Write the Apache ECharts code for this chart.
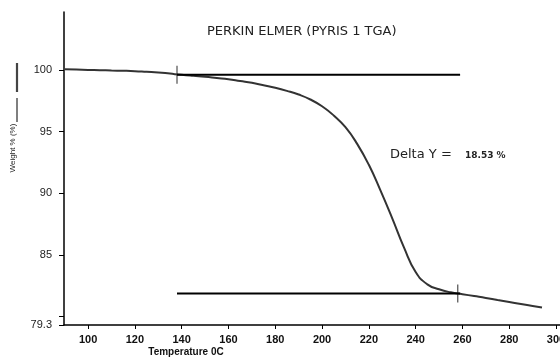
<!DOCTYPE html>
<html>
<head>
<meta charset="utf-8">
<script src="https://cdn.jsdelivr.net/npm/echarts@6/dist/echarts.min.js"></script>
<style>
  html, body { margin: 0; padding: 0; background: #fff; }
  #tgaChart { width: 560px; height: 358px; }
</style>
</head>
<body>
<div id="tgaChart"></div>
<script>
// TGA curve (5 degree steps)
var temperature = [90, 95, 100, 105, 110, 115, 120, 125, 130, 135, 140, 145, 150, 155, 160, 165, 170, 175, 180, 185, 190, 195, 200, 205, 210, 215, 220, 225, 230, 235, 240, 245, 250, 255, 260, 265, 270, 275, 280, 285, 290, 294];
var weight = [100.05, 100.03, 100.0, 99.98, 99.95, 99.93, 99.9, 99.85, 99.8, 99.7, 99.6, 99.52, 99.45, 99.35, 99.25, 99.1, 98.95, 98.75, 98.55, 98.3, 98.0, 97.6, 97.05, 96.3, 95.35, 94.0, 92.3, 90.2, 87.95, 85.6, 83.6, 82.6, 82.2, 81.95, 81.8, 81.65, 81.5, 81.33, 81.17, 81.0, 80.85, 80.72];

// baseline segments and cross markers
var upperLine = [[138, 99.6], [259, 99.6]];
var lowerLine = [[138, 81.85], [259, 81.85]];
var crossPoints = [[138, 99.6], [258, 81.85]];

var xTicks = [100, 120, 140, 160, 180, 200, 220, 240, 260, 280, 300];
var yTicks = [79.3, 80, 85, 90, 95, 100];
var yLabels = [79.3, 85, 90, 95, 100];

var chart = echarts.init(document.getElementById('tgaChart'));

var curveData = [];
temperature.forEach(function(t, i) {
    curveData.push([t, weight[i]]);
});

var font = 'Liberation Sans, Arial, sans-serif';
var wideFont = 'DejaVu Sans, Verdana, sans-serif';

var chartOptions = {
    backgroundColor: '#ffffff',
    animation: false,
    textStyle: { fontFamily: font },
    title: {
        text: 'PERKIN ELMER (PYRIS 1 TGA)',
        left: 202,
        top: 20,
        textStyle: { fontSize: 13, fontWeight: 'normal', color: '#222', fontFamily: wideFont }
    },
    grid: { left: 64, top: 12, right: 0, bottom: 33, outerBoundsMode: 'none' },
    xAxis: {
        type: 'value',
        min: 89.7,
        max: 301.7,
        axisLine: { show: true, lineStyle: { color: '#000', width: 1.5 } },
        axisTick: { show: true, length: 4, customValues: xTicks, lineStyle: { color: '#000' } },
        axisLabel: { customValues: xTicks, fontSize: 11, fontWeight: 'bold', color: '#111', margin: 9 },
        splitLine: { show: false }
    },
    yAxis: {
        type: 'value',
        min: 79.3,
        max: 104.7,
        axisLine: { show: true, lineStyle: { color: '#000', width: 1.5 } },
        axisTick: { show: true, length: 5, customValues: yTicks, lineStyle: { color: '#000' } },
        axisLabel: { customValues: yLabels, fontSize: 11, color: '#222', margin: 12 },
        splitLine: { show: false }
    },
    graphic: [
        { type: 'line', shape: { x1: 17, y1: 63, x2: 17, y2: 92 }, style: { stroke: '#444', lineWidth: 2.2 } },
        { type: 'line', shape: { x1: 17, y1: 98, x2: 17, y2: 122 }, style: { stroke: '#555', lineWidth: 1.5 } },
        {
            type: 'text', x: 13, y: 148, rotation: Math.PI / 2,
            style: { text: 'Weight % (%)', fill: '#222', font: '8px ' + font, align: 'center', verticalAlign: 'middle' }
        },
        {
            type: 'text', x: 186, y: 352,
            style: { text: 'Temperature 0C', fill: '#111', font: 'bold 10px ' + font, align: 'center', verticalAlign: 'middle' }
        },
        {
            type: 'text', left: 390, top: 148,
            style: { text: 'Delta Y =', fill: '#222', font: '13px ' + wideFont }
        },
        {
            type: 'text', left: 465, top: 151,
            style: { text: '18.53 %', fill: '#222', font: 'bold 9px ' + wideFont }
        }
    ],
    series: [
        {
            name: 'Weight',
            type: 'line',
            data: curveData,
            smooth: 0.5,
            showSymbol: false,
            lineStyle: { color: '#333', width: 2 }
        },
        {
            name: 'Upper',
            type: 'line',
            data: upperLine,
            showSymbol: false,
            lineStyle: { color: '#000', width: 2 }
        },
        {
            name: 'Lower',
            type: 'line',
            data: lowerLine,
            showSymbol: false,
            lineStyle: { color: '#000', width: 2 }
        },
        {
            name: 'Cross',
            type: 'scatter',
            data: crossPoints,
            symbol: 'rect',
            symbolSize: [1.2, 18],
            itemStyle: { color: '#222' }
        }
    ]
};

chart.setOption(chartOptions);
</script>
</body>
</html>
